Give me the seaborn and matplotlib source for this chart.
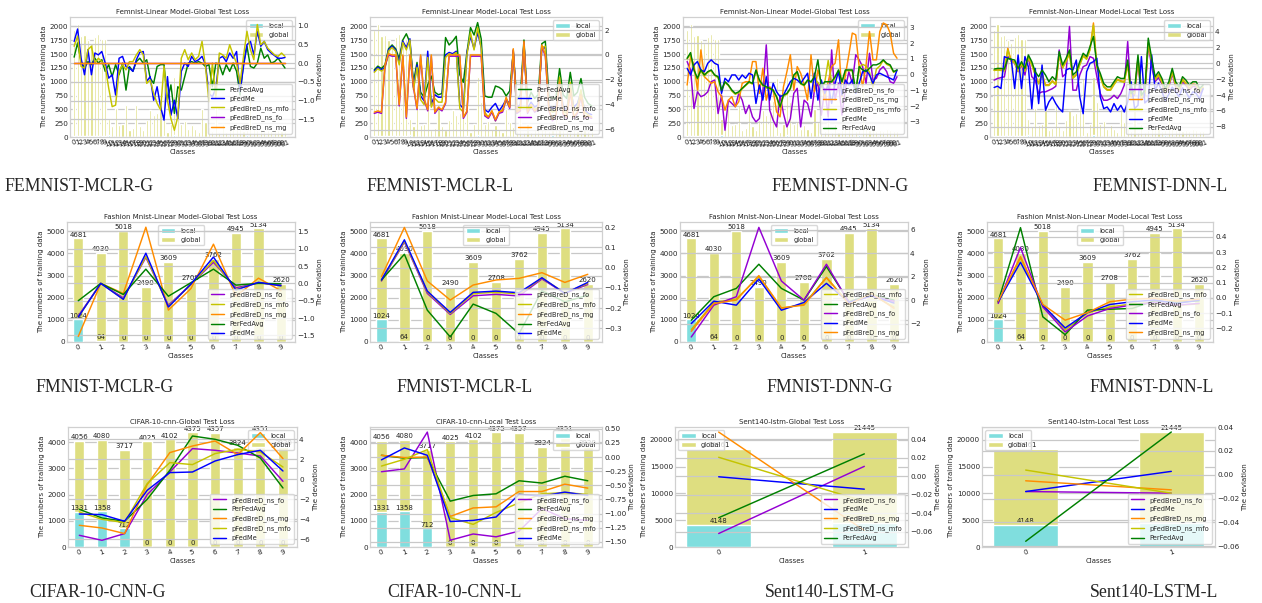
import numpy as np
import matplotlib
matplotlib.use("Agg")
import matplotlib.pyplot as plt
import seaborn as sns
from matplotlib.ticker import MultipleLocator

sns.set_style("whitegrid")
plt.rcParams['font.family'] = ['DejaVu Sans']

# ---------------- data ----------------
femnist_global = [1940, 2050, 1830, 1850, 1760, 1700, 1810, 1860, 1780, 1770,
                  330, 200, 530, 210, 230, 570, 120, 170, 570, 195,
                  120, 315, 485, 395, 435, 660, 1060, 90, 230, 1090,
                  635, 240, 290, 150, 210, 150, 90, 515, 270, 180,
                  110, 560, 90, 240, 90, 120, 160, 140, 200, 100,
                  130, 880, 160, 120, 150, 100, 130, 110, 140, 120,
                  100, 110]
femnist_local = [18, 22, 15, 20, 17, 14, 19, 21, 16, 18,
                 30, 2, 5, 2, 2, 6, 1, 2, 5, 2,
                 1, 3, 4, 4, 4, 6, 10, 1, 2, 30,
                 6, 2, 3, 1, 2, 1, 1, 5, 3, 2,
                 1, 5, 1, 2, 1, 1, 2, 1, 2, 1,
                 30, 9, 2, 1, 1, 1, 1, 1, 1, 1,
                 1, 1]

# FEMNIST-MCLR-G
avg1 = [0.16, 0.54, 0.04, -0.13, 0.04, -0.04, 0.13, 0.0, 0.09, -0.22,
        -0.04, -0.36, -0.04, -0.31, 0.0, -0.72, -0.09, -0.22, 0.04, 0.13,
        0.0, 0.09, -0.40, -0.54, -0.09, -0.04, -0.04, -0.99, -0.58, -1.34,
        -0.63, -0.72, -0.36, 0.0, 0.04, 0.0, 0.04, 0.0, -0.09, -0.04,
        -0.63, 0.0, -0.04, -0.31, -0.04, -0.22, 0.0, -0.22, -0.85, 0.0,
        0.45, -0.09, -0.13, 0.0, 0.40, 0.13, 0.22, 0.0, 0.04, 0.13,
        0.0, -0.13]
me1 = [0.58, 0.91, 0.13, -0.31, 0.36, -0.31, 0.27, 0.22, 0.31, 0.0,
       -0.40, -0.31, -0.85, 0.13, 0.18, -0.09, -0.13, -0.22, 0.09, 0.29,
       0.31, -0.49, -0.36, -0.99, -0.63, -1.16, -1.52, -0.36, -1.39, -0.99,
       -1.48, -0.22, 0.0, -0.09, 0.18, 0.04, 0.09, 0.18, -0.04, -0.81,
       -0.90, -0.67, 0.13, 0.18, 0.04, 0.27, 0.13, 0.31, -0.76, -0.09,
       0.49, 0.58, 0.22, 0.85, 0.45, 0.58, 0.36, 0.27, 0.20, 0.13,
       0.13, 0.15]
mfo1 = [0.45, 0.72, -0.09, -0.13, 0.36, 0.45, 0.0, 0.13, 0.04, -0.09,
        -0.67, -1.16, -1.12, -0.22, -0.04, -0.18, 0.04, 0.04, 0.22, 0.36,
        0.22, -0.54, -0.45, -0.81, -1.07, -1.25, -0.09, -0.99, -1.48, -1.79,
        -1.43, 0.13, 0.36, 0.09, 0.27, 0.09, 0.18, 0.58, -0.09, -1.03,
        0.0, -0.94, 0.27, 0.22, 0.13, 0.49, 0.22, 0.0, -0.54, 0.18,
        0.85, 0.36, 0.09, 1.03, 0.49, 0.58, 0.40, 0.31, 0.22, 0.18,
        0.27, 0.18]
fo1 = [0.0, 0.0, 0.0, 0.0, 0.0, 0.0, 0.0, 0.0, 0.0, 0.0,
       0.0, 0.0, 0.0, 0.0, 0.0, 0.0, 0.0, 0.0, 0.0, 0.0,
       0.0, 0.0, 0.0, 0.0, 0.0, 0.0, 0.0, 0.0, 0.0, 0.0,
       0.0, 0.0, 0.0, 0.0, 0.0, 0.0, 0.0, 0.0, 0.0, 0.0,
       0.0, 0.0, 0.0, 0.0, 0.0, 0.0, 0.0, 0.0, 0.0, 0.0,
       0.0, 0.0, 0.0, 0.0, 0.0, 0.0, 0.0, 0.0, 0.0, 0.0,
       0.0, 0.0]
mg1 = [0.0, 0.0, 0.0, 0.0, 0.0, 0.0, 0.0, 0.0, 0.0, 0.0,
       0.0, 0.0, 0.0, 0.0, 0.0, 0.0, 0.0, 0.0, 0.0, 0.0,
       0.0, 0.0, 0.0, 0.0, 0.0, 0.0, 0.0, 0.0, 0.0, 0.0,
       0.0, 0.0, 0.0, 0.0, 0.0, 0.0, 0.0, 0.0, 0.0, 0.0,
       0.0, 0.0, 0.0, 0.0, 0.0, 0.0, 0.0, 0.0, 0.0, 0.0,
       0.0, 0.0, 0.0, 0.0, 0.0, 0.0, 0.0, 0.0, 0.0, 0.0,
       0.0, 0.0]

# FEMNIST-MCLR-L
avg2 = [-1.2, -0.9, -1.1, -0.8, 0.5, 0.8, 0.5, -0.3, 1.2, 1.7,
        1.0, -2.2, -0.6, -3.0, -3.4, -2.4, -1.7, -3.0, -3.2, -3.1,
        1.4, 0.8, 1.1, 1.5, -1.6, -2.2, 0.2, 2.2, 1.6, 2.6,
        1.3, -3.3, -3.4, -3.4, -2.5, -2.6, -2.8, -3.3, -2.9, 0.2,
        -3.6, -3.2, 1.2, -3.8, -3.0, -3.5, -3.2, 0.9, 1.1, -3.3,
        -3.5, -3.4, -1.1, -3.2, -3.5, -1.4, -3.3, -3.0, -1.9, -3.4,
        -3.9, -4.1]
me2 = [-1.3, -1.0, -1.2, -1.0, 0.4, 0.7, 0.4, -0.6, 1.1, 0.6,
       1.3, -2.6, -0.8, -3.3, -3.7, 0.3, -4.0, -3.2, -3.4, -3.4,
       0.0, 0.2, 0.1, 0.3, -4.0, -4.3, 0.2, 1.5, 0.5, 1.8,
       0.6, -4.4, -4.6, -4.2, -3.9, -4.5, -4.1, -3.6, -3.9, 0.3,
       -4.2, -4.0, 0.9, -4.3, -3.8, -4.2, -4.0, 0.5, 0.6, -4.1,
       -4.3, -4.2, -2.0, -4.2, -4.4, -2.6, -4.2, -3.9, -3.0, -4.4,
       -4.7, -4.8]
mfo2 = [-1.4, -1.1, -1.3, -1.1, 0.3, 0.6, 0.3, -0.8, 1.0, 0.4,
        1.2, -2.8, -1.0, -3.6, -4.0, -0.2, -4.2, -3.5, -3.8, -3.8,
        -0.2, 0.1, 0.0, 0.2, -4.3, -4.6, 0.0, 1.8, 0.4, 2.2,
        0.5, -4.6, -5.0, -4.5, -5.3, -4.6, -4.4, -3.7, -4.2, 0.4,
        -4.5, -4.3, 1.0, -4.5, -4.0, -4.4, -4.2, 0.6, 0.7, -4.3,
        -4.6, -4.5, -1.8, -4.5, -4.7, -2.2, -4.5, -4.2, -2.8, -4.6,
        -4.8, -5.0]
fo2 = [-4.7, -4.6, -4.7, -0.9, 0.0, -0.1, -0.1, -4.1, -0.1, -5.1,
       -0.1, -2.6, -4.4, -0.1, -3.6, -4.5, -0.1, -4.7, -4.3, -4.5,
       -3.9, -0.1, -0.1, -0.1, -0.1, -5.1, -4.6, -0.1, -0.1, -0.1,
       -0.1, -4.9, -5.1, -4.6, -5.3, -4.7, -4.6, -3.5, -4.3, 0.4,
       -4.7, -4.5, 1.0, -4.7, -4.1, -4.6, -4.4, 0.7, -0.1, -4.5,
       -5.3, -4.9, -2.3, -4.8, -5.1, -2.9, -5.1, -4.7, -3.3, -5.1,
       -5.0, -5.1]
mg2 = [-4.6, -4.5, -4.6, -0.8, 0.1, 0.0, 0.0, -4.0, 0.0, -5.0,
       0.0, -2.5, -4.3, 0.0, -3.5, -4.4, 0.0, -4.6, -4.2, -4.4,
       -3.8, 0.0, 0.0, 0.0, 0.0, -5.0, -4.5, 0.0, 0.0, 0.0,
       0.0, -4.8, -5.0, -4.5, -5.2, -4.6, -4.5, -3.4, -4.2, 0.5,
       -4.6, -4.4, 1.1, -4.6, -4.0, -4.5, -4.3, 0.8, 0.0, -4.4,
       -5.2, -4.8, -2.2, -4.7, -5.0, -2.8, -5.0, -4.6, -3.2, -5.0,
       -4.9, -5.0]

# FEMNIST-DNN-G
fo3 = [0.83, 0.30, -2.15, -1.09, -1.40, -1.30, -1.09, -0.45, -0.34, -2.47,
       -1.30, -3.53, -1.62, -1.83, -2.04, -1.19, -1.62, -2.47, -1.94, -2.68,
       -3.0, -2.79, -1.09, 1.89, -2.26, -2.89, -3.32, -1.30, -2.47, -3.32,
       -2.79, -1.19, -0.87, -3.32, -1.62, -1.83, -2.68, -0.98, -0.55, -2.57,
       -0.87, -2.68, 1.57, -1.62, -0.55, -2.57, -0.87, 0.19, -0.55, 1.26,
       0.94, 0.51, -0.55, 1.36, -0.34, -0.23, 0.30, 0.51, 0.19, -0.45,
       -0.55, -0.13]
mg3 = [-0.66, 1.15, 0.62, -0.98, 1.57, -0.13, -0.34, -0.55, -0.45, -1.09,
       -1.40, -2.26, -1.62, -1.40, -2.04, -1.72, -0.55, -0.45, -0.45, 0.83,
       0.83, -1.19, 0.40, -1.62, -0.77, -0.98, -2.36, -2.68, -0.77, 0.19,
       1.26, -0.98, 0.51, 0.09, -0.66, -1.62, 1.26, -1.09, 0.30, -0.55,
       -1.51, -0.45, 0.51, 0.72, 2.21, -1.40, -0.02, 1.26, 2.64, 2.53,
       0.51, -0.77, 0.62, 2.74, 0.94, 0.94, 2.74, 3.28, 3.17, 2.64,
       1.36, 1.04]
mfo3 = [1.0, 1.3, 0.25, -0.3, 0.25, -0.1, 0.15, 0.25, -0.05, -0.2,
        -1.05, -0.5, -0.7, -1.05, -1.25, -1.15, -0.9, -0.7, -0.5, -0.6,
        0.25, -0.4, -0.7, -0.85, -0.9, -1.05, -1.45, -2.1, -1.35, -1.25,
        -0.9, -0.1, 0.15, -0.6, -0.7, -0.4, -0.5, -0.2, -0.5, -0.8,
        -0.5, 0.9, -0.5, -0.2, 0.25, -0.5, 0.25, 0.25, 0.25, -1.15,
        0.45, 0.65, 0.55, 0.15, -0.8, 0.35, 0.55, 0.9, 0.65, 0.55,
        0.15, 0.25]
me3 = [0.40, -0.02, 0.62, 0.83, 0.30, 0.19, 0.72, 0.94, 0.72, 0.62,
       -1.19, -0.23, -0.45, -0.02, -0.02, -0.34, -0.02, -0.23, 0.09, -0.02,
       -1.83, -0.66, -1.62, -0.13, -1.62, -0.55, -1.09, -1.40, -1.30, -0.87,
       -0.45, -0.23, -0.34, -0.55, -0.23, 0.09, -1.51, 0.09, -1.62, -0.34,
       -1.19, -0.66, -1.83, -0.55, 0.19, -1.30, -0.34, -0.66, -0.34, -1.19,
       -0.55, 0.19, 0.30, -0.02, -0.55, -0.02, 0.09, -0.02, -0.13, -0.23,
       -0.34, 0.30]
avg3 = [1.04, 1.40, 0.30, -0.23, 0.30, -0.02, 0.19, 0.30, -0.02, -0.13,
        -0.98, -0.45, -0.66, -0.98, -1.19, -1.09, -0.87, -0.66, -0.45, -0.55,
        0.30, -0.34, -0.66, -0.77, -0.87, -0.98, -1.40, -2.04, -1.30, -1.19,
        -0.87, -0.02, 0.19, -0.55, -0.66, -0.34, -0.45, -0.13, 0.94, -0.77,
        -0.45, -0.45, -0.45, -0.13, 0.30, -0.45, 0.30, 0.30, 0.30, -1.09,
        0.51, 0.30, 0.19, 0.40, 0.62, 0.62, 0.72, 0.94, 0.72, 0.62,
        0.19, 0.30]

# FEMNIST-DNN-L
fo4 = [-2.12, -1.91, -1.8, -1.7, 0.85, 0.42, 0.0, -1.06, -0.21, -1.48,
       0.85, -1.69, -2.12, -3.81, -3.6, -3.6, -3.4, -3.2, -2.9, 1.69,
       -1.69, -1.27, 4.66, -3.39, -3.39, -1.48, -0.42, -0.21, 0.85, 0.64,
       -1.69, -3.81, -4.66, -4.66, -4.45, -4.03, -4.45, -3.81, -2.75, 2.75,
       -4.24, -4.0, 0.4, -4.6, -4.0, 2.3, -0.42, -2.3, -1.8, -2.6,
       -3.8, -3.0, -1.3, -3.0, -3.6, -2.3, -2.8, -3.4, -2.9, -3.0,
       -3.8, -3.2]
mg4 = [-0.85, -0.8, -0.85, -0.9, 1.9, 0.3, 0.2, -0.9, 0.0, -0.9,
       0.8, -0.1, -1.4, -2.5, -1.3, -2.7, -2.7, -2.2, -2.6, 1.1,
       -0.5, 0.3, 1.3, -1.8, -1.4, -0.1, 1.0, 0.6, 1.8, 5.1,
       -0.5, -1.6, -2.9, -3.3, -3.3, -2.6, -2.0, -2.2, -2.3, 0.0,
       -4.1, -3.7, 0.7, -4.3, -3.7, 2.6, 0.3, -2.0, -1.4, -2.3,
       -3.5, -2.7, -1.0, -2.7, -3.3, -2.0, -2.5, -3.1, -2.6, -2.7,
       -3.5, -3.0]
mfo4 = [-0.9, -0.85, -0.9, -0.95, 1.7, 0.2, 0.1, -1.0, -0.1, -1.0,
        0.7, -0.2, -1.5, -2.6, -1.4, -2.8, -2.8, -2.3, -2.7, 1.0,
        -0.6, 0.2, 1.2, -1.9, -1.5, -0.2, 0.9, 0.5, 1.7, 4.8,
        -0.6, -1.7, -3.0, -3.4, -3.4, -2.7, -2.1, -2.3, -2.4, -0.1,
        -4.2, -3.8, 0.6, -4.4, -3.8, 2.5, 0.2, -2.1, -1.5, -2.4,
        -3.6, -2.8, -1.1, -2.8, -3.4, -2.1, -2.6, -3.2, -2.7, -2.8,
        -3.6, -3.1]
me4 = [-3.05, -2.88, -3.18, 0.85, 0.64, 0.51, -3.18, 1.06, -3.18, 0.85,
       -0.42, -5.72, -0.64, -5.08, -0.21, -5.93, -4.87, -4.24, -5.08, -5.72,
       -6.14, -0.85, -0.64, -0.85, 0.42, -4.24, -6.36, -1.06, 0.0, 0.21,
       0.64, -4.24, -5.72, -5.51, -6.14, -5.08, -5.93, -5.3, -6.14, -4.87,
       -2.33, -5.7, -5.3, 0.85, -5.0, -4.6, 1.06, -3.4, -2.5, -3.6,
       -4.7, -3.9, -3.0, -3.6, -4.2, -3.1, -3.6, -4.4, -3.6, -3.8,
       -4.5, -3.2]
avg4 = [-0.72, -0.64, -0.64, -0.72, 0.64, 0.51, 0.42, -0.64, 0.21, -0.64,
        1.06, 0.21, -1.06, -1.69, -0.85, -1.48, -2.33, -1.69, -2.12, 1.48,
        -0.21, 0.64, 1.69, -1.48, -1.06, 0.21, 1.27, 0.85, 2.12, 3.39,
        -0.21, -1.27, -2.54, -2.97, -2.97, -2.33, -1.69, -1.91, -1.91, 0.42,
        -3.81, -3.39, 1.06, -4.03, -3.39, 3.18, 0.64, -1.69, -1.06, -1.91,
        -3.18, -2.33, -0.64, -2.33, -2.97, -1.69, -2.12, -2.75, -2.33, -2.33,
        -3.18, -2.75]

# Fashion MNIST
fm_global = [4681, 4030, 5018, 2490, 3609, 2708, 3762, 4945, 5134, 2620]
fm_local = [1024, 64, 0, 0, 0, 0, 0, 0, 0, 0]
fo5 = [-0.94, 0.0, -0.42, 0.75, -0.63, -0.03, 0.61, -0.13, 0.02, -0.05]
mfo5 = [-0.97, 0.0, -0.45, 0.78, -0.66, -0.03, 0.66, -0.17, 0.02, -0.07]
mg5 = [-1.53, 0.0, -0.29, 1.62, -0.77, -0.15, 1.13, -0.37, 0.15, -0.21]
avg5 = [-0.50, 0.0, -0.32, 0.41, -0.37, 0.02, 0.41, -0.05, 0.0, -0.01]
me5 = [-0.97, 0.0, -0.46, 0.87, -0.68, -0.02, 0.76, -0.19, 0.03, -0.07]

fo6 = [-0.066, 0.126, -0.127, -0.231, -0.139, -0.132, -0.140, -0.056, -0.127, -0.083]
mfo6 = [-0.064, 0.130, -0.120, -0.226, -0.128, -0.122, -0.130, -0.052, -0.125, -0.078]
mg6 = [-0.045, 0.198, -0.066, -0.160, -0.086, -0.061, -0.053, -0.025, -0.073, -0.033]
avg6 = [-0.061, 0.066, -0.210, -0.342, -0.180, -0.226, -0.326, -0.114, -0.169, -0.136]
me6 = [-0.061, 0.137, -0.116, -0.221, -0.122, -0.116, -0.124, -0.050, -0.127, -0.073]

mfo7 = [-2.5, -0.2, 0.1, 2.0, -0.7, -0.35, 1.95, -0.3, 0.5, -0.6]
avg7 = [-1.71, 0.29, 1.0, 3.06, 1.0, 0.0, 2.86, -0.14, 0.49, 0.0]
fo7 = [-3.14, -0.43, 0.29, 6.2, 1.63, 0.0, 3.06, -0.2, 0.35, -0.1]
me7 = [-2.0, -0.09, -0.43, 1.8, -0.86, -0.2, 1.43, -0.2, 0.37, -0.25]
mg7 = [-2.66, -0.29, 0.0, 2.09, -0.66, -0.43, 1.91, -0.35, 0.57, -0.7]

mfo8 = [-0.03, 0.26, -0.05, -0.21, -0.10, -0.06, -0.04, -0.03, -0.05, -0.04]
avg8 = [-0.026, 0.46, -0.125, -0.242, -0.081, -0.075, -0.070, -0.02, -0.03, -0.02]
fo8 = [-0.037, 0.33, -0.06, -0.224, -0.119, -0.07, -0.048, -0.03, -0.048, -0.037]
me8 = [-0.026, 0.233, -0.048, -0.198, -0.097, -0.044, -0.026, -0.015, -0.037, -0.015]
mg8 = [-0.022, 0.27, -0.044, -0.147, -0.097, -0.026, -0.009, -0.004, -0.022, -0.009]

# CIFAR-10
cf_global = [4056, 4080, 3717, 4025, 4102, 4375, 4357, 3824, 4351, 3820]
cf_local = [1331, 1358, 712, 0, 0, 0, 0, 0, 0, 0]
fo9 = [-5.6, -6.1, -5.43, -1.53, 0.73, 3.07, 2.9, 2.63, 2.33, -0.2]
avg9 = [-3.0, -3.87, -4.2, -2.0, 0.9, 4.33, 4.0, 3.4, 2.13, -0.87]
mg9 = [-4.6, -4.87, -5.43, -0.53, 2.67, 3.33, 3.83, 2.47, 4.67, 2.07]
mfo9 = [-3.27, -4.0, -4.33, -0.43, 1.67, 1.47, 2.57, 3.0, 2.73, 1.23]
me9 = [-3.47, -3.53, -4.2, -1.1, 0.67, 0.73, 1.83, 2.47, 2.9, 0.83]

fo10 = [-0.26, -0.21, 0.44, -1.47, -1.36, -1.41, -1.31, -0.91, -1.09, -1.12]
avg10 = [0.03, -0.02, -0.01, -0.78, -0.68, -0.65, -0.42, -0.46, -0.34, -0.42]
mg10 = [0.03, -0.01, 0.0, -1.05, -0.90, -0.88, -0.61, -0.61, -0.48, -0.55]
mfo10 = [-0.16, -0.04, 0.13, -1.07, -1.19, -0.98, -0.81, -0.65, -0.63, -0.66]
me10 = [-0.05, 0.16, 0.03, -1.14, -1.12, -1.06, -0.66, -0.69, -0.62, -0.68]

# Sent140
st_global = [18361, 21445]
st_local = [4148, 4463]
fo11 = [-0.0618, 0.0109]
me11 = [-0.0004, -0.0138]
mg11 = [0.0480, -0.0585]
mfo11 = [0.0207, -0.0270]
avg11 = [-0.0447, 0.0244]
fo12 = [-0.0141, -0.0155]
me12 = [-0.0141, 0.0028]
mg12 = [-0.0051, -0.0127]
mfo12 = [0.0039, -0.0155]
avg12 = [-0.0558, 0.0358]

captions = ["FEMNIST-MCLR-G", "FEMNIST-MCLR-L", "FEMNIST-DNN-G", "FEMNIST-DNN-L",
            "FMNIST-MCLR-G", "FMNIST-MCLR-L", "FMNIST-DNN-G", "FMNIST-DNN-L",
            "CIFAR-10-CNN-G", "CIFAR-10-CNN-L", "Sent140-LSTM-G", "Sent140-LSTM-L"]

# ---------------- styling ----------------
COL = {'PerFedAvg': 'green', 'pFedMe': 'blue', 'pFedBreD_ns_mfo': '#c4c400',
       'pFedBreD_ns_fo': 'darkviolet', 'pFedBreD_ns_mg': 'darkorange'}
GLOBAL_C = '#dede80'
LOCAL_C = '#80dede'
W, H = 1262, 603

fig = plt.figure(figsize=(W / 100, H / 100), dpi=100)


def panel(rect, title, glob, loc, series, ylim_l, step_l, ylim_r, step_r, xlim,
          labels, bar_loc, bar_w=0.45):
    x0, y0, x1, y1 = rect
    ax = fig.add_axes([x0 / W, 1 - y1 / H, (x1 - x0) / W, (y1 - y0) / H])
    n = len(glob)
    cls = [str(i) for i in range(n)]
    sns.barplot(x=cls, y=glob, color=GLOBAL_C, saturation=1, width=bar_w, ax=ax,
                label='global', zorder=2)
    sns.barplot(x=cls, y=loc, color=LOCAL_C, saturation=1, width=bar_w, ax=ax,
                label='local', zorder=3)
    if labels:
        for cont in ax.containers:
            ax.bar_label(cont, fontsize=5, padding=0.5, color='#222222')
    ax.set_ylim(*ylim_l)
    ax.yaxis.set_major_locator(MultipleLocator(step_l))
    ax.set_xlim(*xlim)
    ax.grid(axis='x', visible=False)
    ax.grid(axis='y', color='#c8c8c8', lw=0.9)
    ax.tick_params(axis='both', labelsize=5.2, pad=1.5, length=0)
    for lab in ax.get_xticklabels():
        lab.set_rotation(20)
    ax.set_xlabel('Classes', fontsize=5, labelpad=1)
    ax.set_ylabel('The numbers of training data', fontsize=5, labelpad=2)
    ax.set_title(title, fontsize=5, pad=2)
    for sp in ax.spines.values():
        sp.set_color('#d0d0d0')
        sp.set_linewidth(0.8)
    h, l = ax.get_legend_handles_labels()
    order = [l.index('local'), l.index('global')]
    ax.legend([h[i] for i in order], [l[i] for i in order], loc=bar_loc, fontsize=4.8,
              frameon=True, framealpha=0.8, edgecolor='#d0d0d0', borderpad=0.4,
              labelspacing=0.4, handlelength=2.2)

    ax2 = ax.twinx()
    xs = np.arange(n)
    for name, vals in series:
        sns.lineplot(x=xs, y=vals, color=COL[name], lw=1.05, ax=ax2, label=name)
    ax2.set_ylim(*ylim_r)
    ax2.yaxis.set_major_locator(MultipleLocator(step_r))
    ax2.set_xlim(*xlim)
    ax2.grid(axis='y', color='#c8c8c8', lw=0.9)
    ax2.tick_params(axis='y', labelsize=5.2, pad=1.5, length=0)
    ax2.set_ylabel('The deviation', fontsize=5, labelpad=2)
    for sp in ax2.spines.values():
        sp.set_color('#d0d0d0')
        sp.set_linewidth(0.8)
    ax2.legend(loc='lower right', fontsize=4.8, frameon=True, framealpha=0.8,
               edgecolor='#d0d0d0', borderpad=0.4, labelspacing=0.45, handlelength=2.0)
    return ax, ax2


F_XLIM = (-1.2, 63.9)
T_XLIM = (-0.5, 9.62)
S_XLIM = (-0.3, 1.3)
FW = 0.62

panel((70, 17, 295, 137), 'Femnist-Linear Model-Global Test Loss', femnist_global, femnist_local,
      [('PerFedAvg', avg1), ('pFedMe', me1), ('pFedBreD_ns_mfo', mfo1),
       ('pFedBreD_ns_fo', fo1), ('pFedBreD_ns_mg', mg1)],
      (0, 2170), 250, (-1.97, 1.23), 0.5, F_XLIM, False, 'upper right', FW)
panel((370, 17, 602, 137), 'Femnist-Linear Model-Local Test Loss', femnist_global, femnist_local,
      [('PerFedAvg', avg2), ('pFedMe', me2), ('pFedBreD_ns_mfo', mfo2),
       ('pFedBreD_ns_fo', fo2), ('pFedBreD_ns_mg', mg2)],
      (0, 2170), 250, (-6.6, 3.05), 2, F_XLIM, False, 'upper right', FW)
panel((683, 17, 907, 137), 'Femnist-Non-Linear Model-Global Test Loss', femnist_global, femnist_local,
      [('pFedBreD_ns_fo', fo3), ('pFedBreD_ns_mg', mg3), ('pFedBreD_ns_mfo', mfo3),
       ('pFedMe', me3), ('PerFedAvg', avg3)],
      (0, 2170), 250, (-3.96, 3.66), 1, F_XLIM, False, 'upper right', FW)
panel((990, 17, 1213, 137), 'Femnist-Non-Linear Model-Local Test Loss', femnist_global, femnist_local,
      [('pFedBreD_ns_fo', fo4), ('pFedBreD_ns_mg', mg4), ('pFedBreD_ns_mfo', mfo4),
       ('pFedMe', me4), ('PerFedAvg', avg4)],
      (0, 2170), 250, (-9.3, 5.85), 2, F_XLIM, False, 'upper right', FW)

panel((67, 222, 295, 342), 'Fashion Mnist-Linear Model-Global Test Loss', fm_global, fm_local,
      [('pFedBreD_ns_fo', fo5), ('pFedBreD_ns_mfo', mfo5), ('pFedBreD_ns_mg', mg5),
       ('PerFedAvg', avg5), ('pFedMe', me5)],
      (0, 5420), 1000, (-1.69, 1.77), 0.5, T_XLIM, True, 'upper center')
panel((370, 222, 602, 342), 'Fashion Mnist-Linear Model-Local Test Loss', fm_global, fm_local,
      [('pFedBreD_ns_fo', fo6), ('pFedBreD_ns_mfo', mfo6), ('pFedBreD_ns_mg', mg6),
       ('PerFedAvg', avg6), ('pFedMe', me6)],
      (0, 5420), 1000, (-0.367, 0.225), 0.1, T_XLIM, True, 'upper center')
panel((680, 222, 908, 342), 'Fashion Mnist-Non-Linear Model-Global Test Loss', fm_global, fm_local,
      [('pFedBreD_ns_mfo', mfo7), ('PerFedAvg', avg7), ('pFedBreD_ns_fo', fo7),
       ('pFedMe', me7), ('pFedBreD_ns_mg', mg7)],
      (0, 5420), 1000, (-3.57, 6.66), 2, T_XLIM, True, 'upper center')
panel((987, 222, 1213, 342), 'Fashion Mnist-Non-Linear Model-Local Test Loss', fm_global, fm_local,
      [('pFedBreD_ns_mfo', mfo8), ('PerFedAvg', avg8), ('pFedBreD_ns_fo', fo8),
       ('pFedMe', me8), ('pFedBreD_ns_mg', mg8)],
      (0, 5420), 1000, (-0.29, 0.497), 0.1, T_XLIM, True, 'upper center')

panel((68, 427, 297, 547), 'CIFAR-10-cnn-Global Test Loss', cf_global, cf_local,
      [('pFedBreD_ns_fo', fo9), ('PerFedAvg', avg9), ('pFedBreD_ns_mg', mg9),
       ('pFedBreD_ns_mfo', mfo9), ('pFedMe', me9)],
      (0, 4577), 1000, (-6.77, 5.23), 2, T_XLIM, True, 'upper right')
panel((370, 427, 602, 547), 'CIFAR-10-cnn-Local Test Loss', cf_global, cf_local,
      [('pFedBreD_ns_fo', fo10), ('PerFedAvg', avg10), ('pFedBreD_ns_mg', mg10),
       ('pFedBreD_ns_mfo', mfo10), ('pFedMe', me10)],
      (0, 4577), 1000, (-1.59, 0.53), 0.25, T_XLIM, True, 'upper right')
panel((675, 427, 908, 547), 'Sent140-lstm-Global Test Loss', st_global, st_local,
      [('pFedBreD_ns_fo', fo11), ('pFedMe', me11), ('pFedBreD_ns_mg', mg11),
       ('pFedBreD_ns_mfo', mfo11), ('PerFedAvg', avg11)],
      (0, 22400), 5000, (-0.0764, 0.0535), 0.02, S_XLIM, True, 'upper left')
panel((982, 427, 1215, 547), 'Sent140-lstm-Local Test Loss', st_global, st_local,
      [('pFedBreD_ns_fo', fo12), ('pFedMe', me12), ('pFedBreD_ns_mg', mg12),
       ('pFedBreD_ns_mfo', mfo12), ('PerFedAvg', avg12)],
      (0, 22400), 5000, (-0.0606, 0.04), 0.02, S_XLIM, True, 'upper left')

cap_pos = [(79, 191), (440, 191), (840, 191), (1160, 191),
           (105, 392), (465, 392), (830, 392), (1152, 392),
           (98, 597), (455, 597), (830, 597), (1154, 597)]
for txt, (cx, cy) in zip(captions, cap_pos):
    fig.text(cx / W, 1 - cy / H, txt, ha='center', va='baseline', fontsize=12.8,
             family=['Liberation Serif', 'DejaVu Serif'])

fig.savefig('out.png', dpi=100)
